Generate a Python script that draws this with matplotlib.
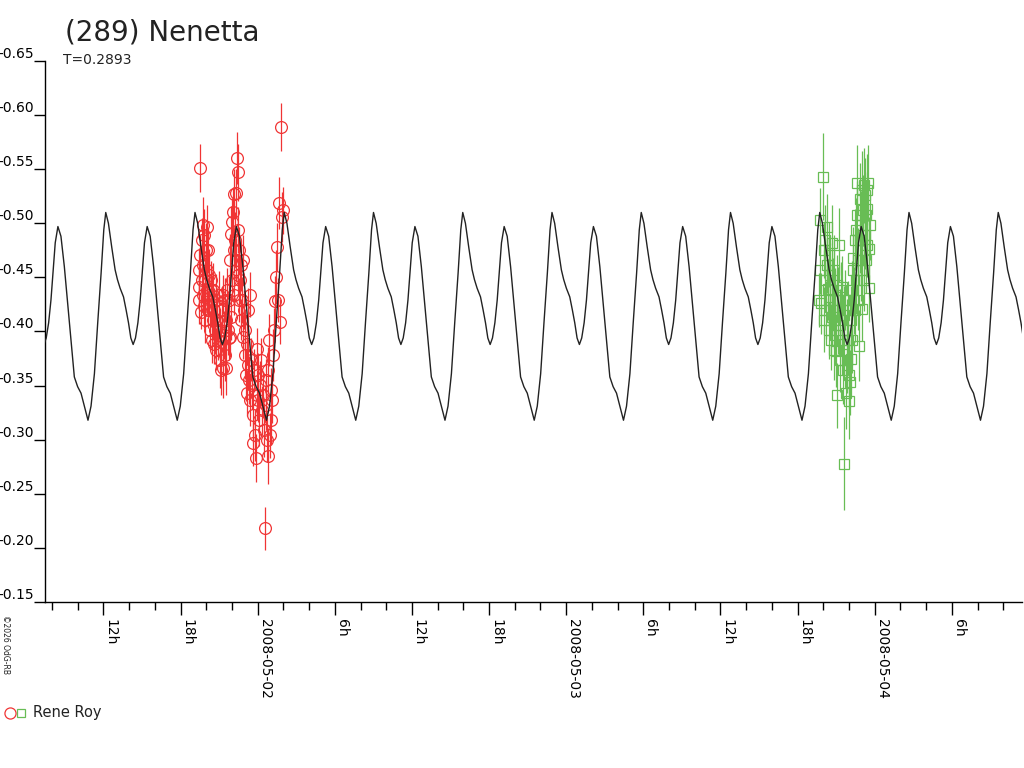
import matplotlib
matplotlib.use('Agg')

import numpy as np
import matplotlib.pyplot as plt

# ============================================================
# 数据：(289) Nenetta 光变曲线
# 时间单位：自 2008-05-01 00:00 起的小时数
# ============================================================
title = "(289) Nenetta"
period_days = 0.2893
period_h = period_days * 24
epoch_h = 12.18          # 模型曲线主极大的时刻

# 一个周期内模型曲线的形状（相位, 星等）
curve_phase = [0.000, 0.030, 0.067, 0.105, 0.131, 0.161, 0.199, 0.228, 0.255, 0.281,
               0.307, 0.333, 0.360, 0.386, 0.412, 0.434, 0.464, 0.498, 0.536, 0.573,
               0.610, 0.648, 0.685, 0.723, 0.760, 0.801, 0.835, 0.873, 0.910, 0.948,
               0.978]
curve_mag = [-0.510, -0.500, -0.478, -0.457, -0.448, -0.440, -0.432, -0.420, -0.408, -0.394,
             -0.388, -0.394, -0.408, -0.429, -0.457, -0.482, -0.497, -0.488, -0.460, -0.426,
             -0.392, -0.358, -0.349, -0.343, -0.331, -0.318, -0.331, -0.361, -0.408, -0.454,
             -0.494]

# 第一晚观测（红色圆圈）
red_h = [19.40, 19.43, 19.47, 19.51, 19.55, 19.59, 19.63, 19.67, 19.71, 19.74,
         19.78, 19.82, 19.86, 19.90, 19.94, 19.98, 20.02, 20.06, 20.09, 20.13,
         20.17, 20.21, 20.25, 20.29, 20.33, 20.37, 20.40, 20.44, 20.48, 20.52,
         20.56, 20.60, 20.64, 20.68, 20.75, 20.79, 20.83, 20.91, 20.99, 21.03,
         21.07, 21.14, 21.18, 21.22, 21.30, 21.34, 21.38, 21.46, 21.49, 21.53,
         21.57, 21.61, 21.69, 21.77, 21.80, 21.84, 21.88, 21.92, 21.96, 22.00,
         22.04, 22.08, 22.12, 22.15, 22.19, 22.23, 22.31, 22.35, 22.39, 22.43,
         22.47, 22.50, 22.54, 22.58, 22.62, 22.70, 22.74, 22.78, 22.86, 22.89,
         22.93, 23.01, 23.05, 23.09, 23.13, 23.17, 23.24, 23.28, 23.32, 23.40,
         23.44, 23.48, 23.56, 23.60, 23.63, 23.71, 23.79, 23.87, 23.91, 23.95,
         24.02, 24.06, 24.10, 24.18, 24.26, 24.34, 24.41, 24.49, 24.57, 24.61,
         24.65, 24.73, 24.80, 24.84, 24.88, 24.96, 25.00, 25.04, 25.12, 25.19,
         25.27, 25.35, 25.43, 25.51, 25.58, 25.66, 25.74, 25.82, 25.89, 25.97]
red_mag = [-0.441, -0.457, -0.429, -0.471, -0.551, -0.418, -0.448, -0.485, -0.434, -0.498,
           -0.461, -0.424, -0.489, -0.448, -0.411, -0.475, -0.497, -0.438, -0.457, -0.420,
           -0.475, -0.434, -0.452, -0.401, -0.438, -0.424, -0.448, -0.392, -0.429, -0.411,
           -0.438, -0.388, -0.420, -0.401, -0.429, -0.383, -0.411, -0.392, -0.434, -0.374,
           -0.401, -0.364, -0.390, -0.420, -0.366, -0.434, -0.397, -0.429, -0.378, -0.411,
           -0.366, -0.438, -0.401, -0.394, -0.429, -0.395, -0.466, -0.413, -0.490, -0.501,
           -0.448, -0.510, -0.475, -0.527, -0.434, -0.485, -0.528, -0.466, -0.560, -0.494,
           -0.547, -0.452, -0.475, -0.429, -0.448, -0.411, -0.461, -0.429, -0.395, -0.466,
           -0.420, -0.378, -0.401, -0.360, -0.343, -0.388, -0.369, -0.420, -0.355, -0.434,
           -0.337, -0.374, -0.351, -0.297, -0.323, -0.364, -0.304, -0.283, -0.384, -0.341,
           -0.337, -0.360, -0.318, -0.351, -0.374, -0.327, -0.341, -0.309, -0.218, -0.355,
           -0.332, -0.300, -0.285, -0.364, -0.392, -0.304, -0.318, -0.346, -0.337, -0.378,
           -0.401, -0.428, -0.450, -0.478, -0.429, -0.519, -0.409, -0.589, -0.506, -0.512]
red_err = [0.017, 0.020, 0.022, 0.018, 0.022, 0.016, 0.022, 0.020, 0.018, 0.026,
           0.017, 0.021, 0.024, 0.019, 0.022, 0.025, 0.020, 0.018, 0.023, 0.017,
           0.021, 0.019, 0.024, 0.018, 0.022, 0.020, 0.017, 0.021, 0.023, 0.019,
           0.025, 0.018, 0.020, 0.022, 0.024, 0.019, 0.021, 0.018, 0.022, 0.026,
           0.020, 0.023, 0.019, 0.021, 0.027, 0.018, 0.022, 0.020, 0.024, 0.019,
           0.025, 0.021, 0.023, 0.020, 0.022, 0.019, 0.024, 0.021, 0.026, 0.022,
           0.020, 0.024, 0.021, 0.023, 0.019, 0.025, 0.022, 0.020, 0.024, 0.021,
           0.026, 0.019, 0.022, 0.020, 0.023, 0.019, 0.024, 0.021, 0.020, 0.023,
           0.018, 0.022, 0.020, 0.024, 0.021, 0.019, 0.023, 0.020, 0.022, 0.021,
           0.024, 0.020, 0.023, 0.021, 0.025, 0.020, 0.024, 0.022, 0.019, 0.023,
           0.021, 0.020, 0.024, 0.022, 0.020, 0.023, 0.021, 0.025, 0.020, 0.020,
           0.023, 0.021, 0.026, 0.022, 0.024, 0.021, 0.023, 0.020, 0.022, 0.024,
           0.021, 0.023, 0.025, 0.022, 0.020, 0.024, 0.021, 0.022, 0.023, 0.022]

# 第三晚观测（绿色方块）
green_h = [67.63, 67.71, 67.78, 67.86, 67.94, 68.02, 68.06, 68.13, 68.17, 68.21,
           68.27, 68.32, 68.37, 68.41, 68.45, 68.49, 68.52, 68.56, 68.60, 68.66,
           68.71, 68.76, 68.80, 68.83, 68.87, 68.91, 68.95, 68.99, 69.03, 69.09,
           69.14, 69.18, 69.25, 69.30, 69.34, 69.38, 69.42, 69.48, 69.54, 69.58,
           69.61, 69.65, 69.69, 69.75, 69.81, 69.85, 69.89, 69.93, 69.97, 70.03,
           70.08, 70.12, 70.16, 70.20, 70.24, 70.28, 70.34, 70.39, 70.43, 70.47,
           70.51, 70.55, 70.60, 70.65, 70.70, 70.74, 70.78, 70.82, 70.86, 70.90,
           70.94, 70.99, 71.01, 71.05, 71.09, 71.13, 71.17, 71.21, 71.25, 71.29,
           71.33, 71.38, 71.40, 71.44, 71.50, 71.56, 71.58, 71.63]
green_mag = [-0.429, -0.503, -0.457, -0.426, -0.543, -0.475, -0.411, -0.448, -0.485, -0.420,
             -0.497, -0.461, -0.439, -0.471, -0.401, -0.429, -0.423, -0.452, -0.392, -0.482,
             -0.413, -0.438, -0.383, -0.457, -0.411, -0.429, -0.397, -0.382, -0.443, -0.341,
             -0.406, -0.429, -0.480, -0.411, -0.374, -0.438, -0.392, -0.441, -0.364, -0.415,
             -0.278, -0.388, -0.429, -0.343, -0.401, -0.374, -0.420, -0.392, -0.360, -0.336,
             -0.353, -0.375, -0.411, -0.438, -0.392, -0.457, -0.468, -0.429, -0.485, -0.420,
             -0.448, -0.494, -0.508, -0.537, -0.466, -0.429, -0.387, -0.485, -0.522, -0.457,
             -0.498, -0.421, -0.531, -0.475, -0.512, -0.448, -0.535, -0.489, -0.526, -0.466,
             -0.508, -0.513, -0.480, -0.531, -0.537, -0.440, -0.476, -0.498]
green_err = [0.025, 0.030, 0.022, 0.028, 0.040, 0.026, 0.030, 0.024, 0.032, 0.027,
             0.030, 0.025, 0.028, 0.030, 0.026, 0.033, 0.027, 0.030, 0.028, 0.035,
             0.026, 0.030, 0.028, 0.032, 0.027, 0.030, 0.026, 0.033, 0.028, 0.030,
             0.027, 0.031, 0.034, 0.028, 0.030, 0.026, 0.032, 0.029, 0.031, 0.027,
             0.043, 0.030, 0.028, 0.033, 0.029, 0.031, 0.027, 0.030, 0.032, 0.035,
             0.030, 0.028, 0.031, 0.027, 0.030, 0.033, 0.029, 0.031, 0.028, 0.030,
             0.032, 0.029, 0.031, 0.035, 0.030, 0.028, 0.033, 0.031, 0.034, 0.029,
             0.032, 0.030, 0.036, 0.031, 0.033, 0.029, 0.035, 0.031, 0.034, 0.030,
             0.032, 0.034, 0.030, 0.033, 0.035, 0.031, 0.030, 0.032]

# 横轴刻度：每 6 小时一个主刻度
major_ticks = [12, 18, 24, 30, 36, 42, 48, 54, 60, 66, 72, 78]
major_labels = ['12h', '18h', '2008-05-02', '6h', '12h', '18h', '2008-05-03',
                '6h', '12h', '18h', '2008-05-04', '6h']
minor_ticks = list(range(8, 84, 2))
y_ticks = [-0.65, -0.60, -0.55, -0.50, -0.45, -0.40, -0.35, -0.30, -0.25, -0.20, -0.15]

# ============================================================
# 绘图
# ============================================================
plt.rcParams['font.family'] = ['DejaVu Sans']
plt.rcParams['axes.unicode_minus'] = False

red = '#f03434'
green = '#68bd55'

fig = plt.figure(figsize=(10.24, 7.68), dpi=100)
ax = fig.add_axes([45 / 1024, 1 - 602 / 768, 977 / 1024, 541 / 768])

ax.errorbar(red_h, red_mag, yerr=red_err, fmt='o', ms=8.5, mfc='none', mec=red,
            mew=0.9, ecolor=red, elinewidth=0.9, capsize=0, zorder=2)
ax.errorbar(green_h, green_mag, yerr=green_err, fmt='s', ms=6.5, mfc='none', mec=green,
            mew=0.9, ecolor=green, elinewidth=0.9, capsize=0, zorder=2)

# 模型曲线：把一个周期的形状按周期平铺
ph = np.array(curve_phase)
mg = np.array(curve_mag)
cycles = np.arange(-2, 12)
t_curve = np.concatenate([epoch_h + (k + ph) * period_h for k in cycles])
m_curve = np.tile(mg, len(cycles))
ax.plot(t_curve, m_curve, color='#222222', lw=1.0, zorder=3)

ax.set_xlim(7.454, 83.46)
ax.set_ylim(-0.15, -0.65)

ax.set_yticks(y_ticks)
ax.set_yticklabels([f'{v:.2f}' for v in y_ticks], fontsize=10)
for lab in ax.get_yticklabels():
    lab.set_verticalalignment('bottom')
ax.tick_params(axis='y', direction='out', length=8, width=1, pad=0)

ax.set_xticks(major_ticks)
ax.set_xticklabels(major_labels, rotation=-90, fontsize=10, ha='left', va='top')
ax.set_xticks(minor_ticks, minor=True)
ax.tick_params(axis='x', which='major', direction='out', length=9, width=1, pad=3)
ax.tick_params(axis='x', which='minor', direction='out', length=6, width=1)

for side in ['top', 'right']:
    ax.spines[side].set_visible(False)
for side in ['left', 'bottom']:
    ax.spines[side].set_linewidth(1)

# 标题与周期
fig.text(65 / 1024, 1 - 40 / 768, title, fontsize=20, color='#222222', va='baseline')
fig.text(63 / 1024, 1 - 64 / 768, f'T={period_days}', fontsize=10, color='#222222',
         va='baseline')

# 图例（左下角）
fig.lines.append(plt.Line2D([10 / 1024], [1 - 713 / 768], marker='o', ms=8, mfc='none',
                            mec=red, mew=0.9, transform=fig.transFigure))
fig.lines.append(plt.Line2D([21 / 1024], [1 - 713 / 768], marker='s', ms=6, mfc='none',
                            mec=green, mew=0.9, transform=fig.transFigure))
fig.text(33 / 1024, 1 - 713 / 768, 'Rene Roy', fontsize=10.5, color='#222222', va='center')

# 版权
fig.text(1 / 1024, 1 - 615 / 768, '©2026 OdG-RB', fontsize=5.5, rotation=-90,
         ha='left', va='top', color='#222222')

fig.savefig('out.png', dpi=100, facecolor='white')
plt.close(fig)
